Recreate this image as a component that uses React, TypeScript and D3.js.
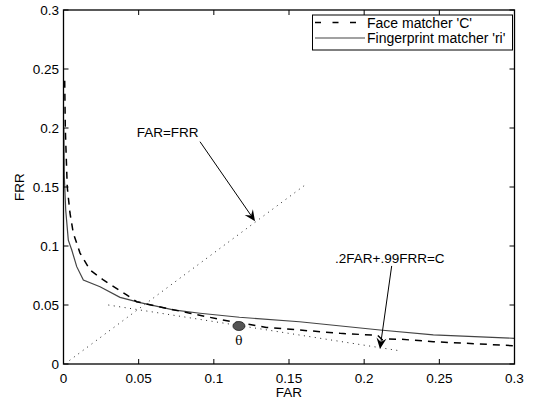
import React from "react";
import * as d3 from "d3";

const W = 539;
const H = 406;
const M = { left: 63.5, right: 514.5, top: 10, bottom: 364 };

const xTicks = [0, 0.05, 0.1, 0.15, 0.2, 0.25, 0.3];
const yTicks = [0, 0.05, 0.1, 0.15, 0.2, 0.25, 0.3];
const xTickLabels = ["0", "0.05", "0.1", "0.15", "0.2", "0.25", "0.3"];
const yTickLabels = ["0", "0.05", "0.1", "0.15", "0.2", "0.25", "0.3"];

const faceFAR = [0.0008, 0.0012, 0.0017, 0.0025, 0.0043, 0.0065, 0.011, 0.0176, 0.0265, 0.042, 0.0487, 0.062, 0.0841, 0.106, 0.135, 0.157, 0.184, 0.205, 0.209, 0.212, 0.216, 0.224, 0.246, 0.3];
const faceFRR = [0.24, 0.2, 0.18, 0.15, 0.128, 0.111, 0.094, 0.0797, 0.0712, 0.0585, 0.0528, 0.049, 0.043, 0.0373, 0.031, 0.0288, 0.026, 0.0245, 0.0243, 0.0205, 0.0212, 0.021, 0.0189, 0.0155];

const fingerFAR = [0.0002, 0.0005, 0.0015, 0.0032, 0.0055, 0.0088, 0.0132, 0.0243, 0.0376, 0.051, 0.073, 0.0908, 0.117, 0.157, 0.2105, 0.246, 0.3];
const fingerFRR = [0.2, 0.16, 0.13, 0.105, 0.0966, 0.0825, 0.0712, 0.0655, 0.0565, 0.052, 0.0458, 0.043, 0.0396, 0.0358, 0.0288, 0.0246, 0.0218];

const eqLineFAR = [0.004, 0.161];
const eqLineFRR = [0.003, 0.152];
const costLineFAR = [0.0298, 0.2232];
const costLineFRR = [0.05, 0.0113];

const thetaPoint = [0.1167, 0.0322];

const seriesNames = ["Face matcher 'C'", "Fingerprint matcher 'ri'"];

export default function App() {
  const x = d3.scaleLinear().domain([0, 0.3]).range([M.left, M.right]);
  const y = d3.scaleLinear().domain([0, 0.3]).range([M.bottom, M.top]);
  const line = d3
    .line<[number, number]>()
    .x((d) => x(d[0]))
    .y((d) => y(d[1]));
  const face = faceFAR.map((v, i) => [v, faceFRR[i]] as [number, number]);
  const finger = fingerFAR.map((v, i) => [v, fingerFRR[i]] as [number, number]);
  const eq = eqLineFAR.map((v, i) => [v, eqLineFRR[i]] as [number, number]);
  const cost = costLineFAR.map((v, i) => [v, costLineFRR[i]] as [number, number]);

  const font = "Liberation Sans, Arial, sans-serif";
  const fs = 13.5;

  const arrow = (x1: number, y1: number, x2: number, y2: number) => {
    const px1 = x(x1), py1 = y(y1), px2 = x(x2), py2 = y(y2);
    const ang = Math.atan2(py2 - py1, px2 - px1);
    const L = 11, Wd = 5, notch = 7;
    const cx = Math.cos(ang), sn = Math.sin(ang);
    const bx = px2 - L * cx, by = py2 - L * sn;
    const nx = px2 - notch * cx, ny = py2 - notch * sn;
    const p1 = [bx - Wd * -sn, by - Wd * cx];
    const p2 = [bx + Wd * -sn, by + Wd * cx];
    return (
      <g>
        <line x1={px1} y1={py1} x2={nx} y2={ny} stroke="#000" strokeWidth={1} />
        <path d={`M${px2},${py2}L${p1[0]},${p1[1]}L${nx},${ny}L${p2[0]},${p2[1]}Z`} fill="#000" />
      </g>
    );
  };

  return (
    <svg width={W} height={H} style={{ position: "absolute", left: 0, top: 0, background: "#fff" }}>
      <rect x={0} y={0} width={W} height={H} fill="#fff" />
      {/* dotted lines */}
      <path d={line(eq) || ""} fill="none" stroke="#222" strokeWidth={1} strokeDasharray="1,4.5" />
      <path d={line(cost) || ""} fill="none" stroke="#222" strokeWidth={1} strokeDasharray="1,4.5" />
      {/* curves */}
      <path d={line(finger) || ""} fill="none" stroke="#444" strokeWidth={1.2} />
      <path d={line(face) || ""} fill="none" stroke="#000" strokeWidth={1.5} strokeDasharray="7,6" />
      {/* theta point */}
      <ellipse cx={x(thetaPoint[0])} cy={y(thetaPoint[1])} rx={6} ry={4.5} fill="#555" stroke="#222" strokeWidth={0.8} />
      <text x={x(thetaPoint[0])} y={y(0.0161)} fontFamily="DejaVu Serif, serif" fontSize={12} textAnchor="middle" fill="#000">θ</text>
      {/* annotations */}
      {arrow(0.0908, 0.1884, 0.1274, 0.121)}
      {arrow(0.2183, 0.0831, 0.2105, 0.0127)}
      <text x={x(0.0487)} y={y(0.1925)} fontFamily={font} fontSize={fs} fill="#000">FAR=FRR</text>
      <text x={x(0.1806)} y={y(0.0856)} fontFamily={font} fontSize={fs} fill="#000">.2FAR+.99FRR=C</text>
      {/* axes box */}
      <rect x={M.left} y={M.top} width={M.right - M.left} height={M.bottom - M.top} fill="none" stroke="#000" strokeWidth={1.3} />
      {xTicks.map((t, i) => (
        <g key={"x" + i}>
          <line x1={x(t)} x2={x(t)} y1={M.bottom} y2={M.bottom - 5} stroke="#000" />
          <line x1={x(t)} x2={x(t)} y1={M.top} y2={M.top + 5} stroke="#000" />
          <text x={x(t)} y={383} fontFamily={font} fontSize={fs} textAnchor="middle" fill="#000">{xTickLabels[i]}</text>
        </g>
      ))}
      {yTicks.map((t, i) => (
        <g key={"y" + i}>
          <line x1={M.left} x2={M.left + 5} y1={y(t)} y2={y(t)} stroke="#000" />
          <line x1={M.right} x2={M.right - 5} y1={y(t)} y2={y(t)} stroke="#000" />
          <text x={59} y={y(t) + 5} fontFamily={font} fontSize={fs} textAnchor="end" fill="#000">{yTickLabels[i]}</text>
        </g>
      ))}
      <text x={(M.left + M.right) / 2} y={397} fontFamily={font} fontSize={fs} textAnchor="middle" fill="#000">FAR</text>
      <text transform={`translate(24,${(M.top + M.bottom) / 2}) rotate(-90)`} fontFamily={font} fontSize={fs} textAnchor="middle" fill="#000">FRR</text>
      {/* legend */}
      <rect x={312.5} y={15} width={200} height={35} fill="#fff" stroke="#000" strokeWidth={1} />
      <line x1={315} x2={365} y1={22.5} y2={22.5} stroke="#000" strokeWidth={1.3} strokeDasharray="6,11.5" />
      <line x1={315} x2={365} y1={38} y2={38} stroke="#444" strokeWidth={1.2} />
      <text x={367} y={27.5} fontFamily={font} fontSize={14} fill="#000">{seriesNames[0]}</text>
      <text x={367} y={43} fontFamily={font} fontSize={14} fill="#000">{seriesNames[1]}</text>
    </svg>
  );
}
